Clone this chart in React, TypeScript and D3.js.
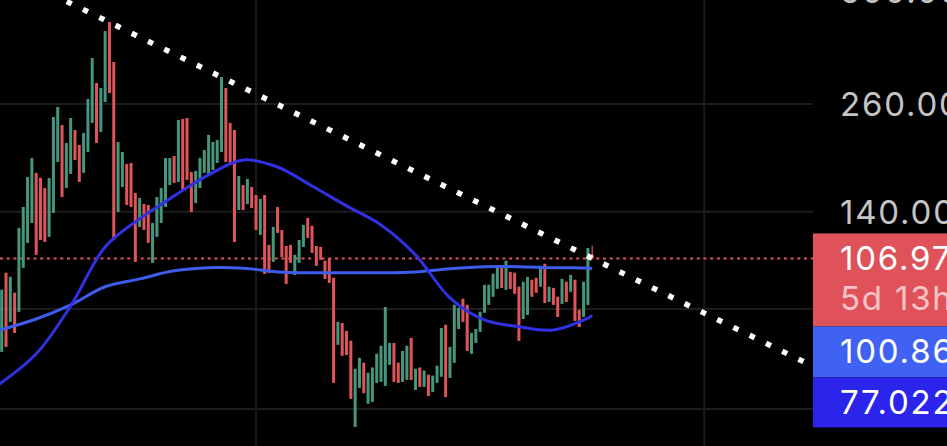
import * as d3 from 'd3';

import React, { useEffect, useRef } from 'react';

const WIDTH = 947;
const HEIGHT = 446;

// candles, oldest -> newest (prices, log axis)
const open = [
  62.5, 98.5, 74.3, 87.8, 78.7, 101.4, 117, 131.2, 174.9, 170,
  160.4, 121.1, 139, 186.3, 230.4, 160.4, 173.9, 223.9, 205.4, 175,
  197.3, 233.1, 293.4, 221.4, 263, 416.4, 331, 139.8, 161.3, 184.2,
  185.2, 155.9, 128.2, 146.3, 145.5, 104.3, 121.1, 131.2, 143.8, 163.2,
  192.8, 166.1, 238.6, 239.9, 175.9, 147.1, 160.4, 174.9, 172.9, 177.9,
  185.2, 197.3, 285, 233.1, 223.9, 141.4, 163.2, 146.3, 161.3, 154.1,
  122.5, 154.1, 115.6, 104.9, 143.8, 126, 114.9, 115.6, 97.3, 104.3,
  114.3, 135, 129, 114.9, 114.3, 105.5, 107.3, 95.7, 65.1, 73.8,
  70.5, 66.6, 40.6, 50.8, 58.7, 46.4, 46.9, 52.3, 52.6, 51.4,
  58, 65.8, 58.7, 52.6, 53.2, 67.7, 50.2, 57.1, 51.1, 54.8,
  49.6, 52.3, 54.2, 73, 53.8, 58.7, 71.3, 84.8, 81.9, 61.8,
  65.8, 70.1, 78.3, 81.9, 85.8, 89.8, 102.5, 89.3, 99, 98.5,
  90.9, 75.5, 77.3, 94.6, 95.7, 90.9, 103.7, 83.3, 90.3, 85.8,
  82.4, 93.5, 88.3, 94.6, 79.6, 76.4, 81.9, 109.5,
];
const close = [
  89.3, 64.3, 96.2, 69.7, 127.5, 143.8, 170.9, 190.5, 109.2, 119,
  117.6, 170, 241.3, 255.6, 152.3, 207.8, 239.9, 188.4, 166.1, 220.1,
  267.6, 338.7, 207.8, 285, 395.5, 277, 119, 209, 197.3, 145.5,
  143.8, 104.9, 151.4, 126, 117, 131.2, 152.3, 160.4, 190.5, 190.5,
  165.2, 237.2, 158.6, 168, 139.8, 176.9, 190.5, 199.6, 217.6, 209,
  211.4, 303.7, 186.3, 185.2, 117.6, 171.9, 141.4, 169, 142.9, 126,
  150.6, 97.9, 98.5, 128.2, 123.9, 107.9, 92.4, 104.3, 109.2, 119,
  129.7, 120.4, 110.5, 102.5, 106.1, 95.1, 92.9, 52.3, 74.3, 61.1,
  61.4, 47.7, 56.7, 60.4, 49.3, 55.4, 57.1, 61.8, 64.7, 80.9,
  65.8, 52.6, 52.3, 62.8, 64.7, 53.2, 56.7, 51.1, 56.1, 48.5,
  54.5, 57.7, 71.7, 48.2, 64.3, 81.9, 80.5, 74.3, 62.8, 69.7,
  71.3, 78.7, 91.9, 91.9, 97.9, 102.5, 90.3, 105.5, 89.8, 87.3,
  66.6, 93.5, 96.2, 85.8, 87.8, 102.5, 82.8, 90.9, 81.9, 76.4,
  95.1, 83.3, 97.3, 74.7, 72.1, 93.5, 113.6, 106.97,
];
const high = [
  89.3, 98.5, 96.2, 87.8, 127.5, 143.8, 170.9, 190.5, 174.9, 170,
  160.4, 170, 241.3, 255.6, 230.4, 207.8, 239.9, 223.9, 205.4, 220.1,
  267.6, 338.7, 293.4, 285, 395.5, 416.4, 331, 209, 197.3, 184.2,
  185.2, 155.9, 151.4, 146.3, 145.5, 131.2, 152.3, 160.4, 190.5, 190.5,
  192.8, 237.2, 238.6, 239.9, 175.9, 176.9, 190.5, 199.6, 217.6, 209,
  211.4, 303.7, 285, 233.1, 223.9, 171.9, 163.2, 169, 161.3, 154.1,
  150.6, 154.1, 115.6, 128.2, 143.8, 126, 114.9, 115.6, 109.2, 119,
  129.7, 135, 129, 114.9, 114.3, 105.5, 107.3, 95.7, 74.3, 73.8,
  70.5, 66.6, 56.7, 60.4, 58.7, 55.4, 57.1, 61.8, 64.7, 80.9,
  65.8, 65.8, 58.7, 62.8, 64.7, 67.7, 56.7, 57.1, 56.1, 54.8,
  54.5, 57.7, 71.7, 73, 64.3, 81.9, 80.5, 84.8, 81.9, 69.7,
  71.3, 78.7, 91.9, 91.9, 97.9, 102.5, 102.5, 105.5, 99, 98.5,
  90.9, 93.5, 96.2, 94.6, 95.7, 102.5, 103.7, 90.9, 90.3, 85.8,
  95.1, 93.5, 97.3, 94.6, 79.6, 93.5, 113.6, 115,
];
const low = [
  62.5, 64.3, 74.3, 69.7, 78.7, 101.4, 117, 131.2, 109.2, 119,
  117.6, 121.1, 139, 186.3, 152.3, 160.4, 173.9, 188.4, 166.1, 175,
  197.3, 233.1, 207.8, 221.4, 263, 277, 119, 139.8, 161.3, 145.5,
  143.8, 104.9, 128.2, 126, 117, 104.3, 121.1, 131.2, 143.8, 163.2,
  165.2, 166.1, 158.6, 168, 139.8, 147.1, 160.4, 174.9, 172.9, 177.9,
  185.2, 197.3, 186.3, 185.2, 117.6, 141.4, 141.4, 146.3, 142.9, 126,
  122.5, 97.9, 98.5, 104.9, 123.9, 107.9, 92.4, 104.3, 97.3, 104.3,
  114.3, 120.4, 110.5, 102.5, 106.1, 95.1, 92.9, 52.3, 65.1, 61.1,
  61.4, 47.7, 40.6, 50.8, 49.3, 46.4, 46.9, 52.3, 52.6, 51.4,
  58, 52.6, 52.3, 52.6, 53.2, 53.2, 50.2, 51.1, 51.1, 48.5,
  49.6, 52.3, 54.2, 48.2, 53.8, 58.7, 71.3, 74.3, 62.8, 61.8,
  65.8, 70.1, 78.3, 81.9, 85.8, 89.8, 90.3, 89.3, 89.8, 87.3,
  66.6, 75.5, 77.3, 85.8, 87.8, 90.9, 82.8, 83.3, 81.9, 76.4,
  82.4, 83.3, 88.3, 74.7, 72.1, 76.4, 81.9, 106.5,
];

// moving averages sampled at candle indices
const maIndex = [-1, 8, 16, 24, 32, 40, 48, 56, 64, 72, 80, 88, 96, 104, 112, 120, 128, 136, 137];
const maSlow = [70.6, 75.5, 81.9, 90.9, 95.1, 99.6, 101.4, 101.1, 99.0, 98.5, 98.5, 98.5, 99.0, 100.8, 102, 102, 101.4, 101.2, 100.86];
const maFast = [51.5, 61.8, 81.4, 114.3, 134.3, 153.2, 172.9, 188.4, 181.0, 162.2, 144.7, 129.7, 109.2, 85.3, 75.1, 72.2, 70.9, 75.9, 77.022];

// descending trendline (two anchors)
const trendIndex = [0, 188];
const trendPrice = [563, 57.7];

const lastPrice = 106.97;
const gridPrices = [500, 260, 140, 80, 45];
const labelPrices = [500, 260, 140];
const tickLabels = ['500.00', '260.00', '140.00'];
const timeGrid = [59, 163];

const tagText = ['106.97', '100.86', '77.022'];
const tagSub = ['5d 13h', '', ''];
const tagColor = ['#e0525a', '#3f62f2', '#2b24ea'];

const UP = '#46967d';
const DOWN = '#e0555a';
const FONT = 'Inter, "Noto Sans", sans-serif';

export default function App() {
  const chartRef = useRef<SVGSVGElement>(null);

  useEffect(() => {
    document.body.style.margin = '0';
    document.body.style.background = '#000';

    const svg = d3.select(chartRef.current);
    svg.selectAll('*').remove();

    const plotRight = 813;
    const x = d3.scaleLinear().domain([0, open.length - 1]).range([1.7, 592.2]);
    const y = d3.scaleLog().domain([260, 45]).range([104, 409]);

    svg.append('rect').attr('width', WIDTH).attr('height', HEIGHT).attr('fill', '#000');

    svg
      .append('defs')
      .append('clipPath')
      .attr('id', 'plot-clip')
      .append('rect')
      .attr('width', plotRight)
      .attr('height', HEIGHT);

    // grid
    svg
      .append('g')
      .selectAll('line')
      .data(gridPrices)
      .join('line')
      .attr('x1', 0)
      .attr('x2', plotRight)
      .attr('y1', (d) => y(d))
      .attr('y2', (d) => y(d))
      .attr('stroke', '#1d1d1d')
      .attr('stroke-width', 2);

    svg
      .append('g')
      .selectAll('line')
      .data(timeGrid)
      .join('line')
      .attr('x1', (d) => x(d))
      .attr('x2', (d) => x(d))
      .attr('y1', 0)
      .attr('y2', HEIGHT)
      .attr('stroke', '#1a1a1a')
      .attr('stroke-width', 2);

    const plot = svg.append('g').attr('clip-path', 'url(#plot-clip)');

    // last price line
    plot
      .append('line')
      .attr('x1', 0)
      .attr('x2', plotRight)
      .attr('y1', y(lastPrice))
      .attr('y2', y(lastPrice))
      .attr('stroke', DOWN)
      .attr('stroke-width', 2)
      .attr('stroke-dasharray', '3 3.7');

    const idx = d3.range(open.length);
    const color = (i: number) => (close[i] >= open[i] ? UP : DOWN);

    plot
      .append('g')
      .selectAll('line')
      .data(idx)
      .join('line')
      .attr('x1', (i) => x(i))
      .attr('x2', (i) => x(i))
      .attr('y1', (i) => y(high[i]))
      .attr('y2', (i) => y(low[i]))
      .attr('stroke', color)
      .attr('stroke-width', 1.2);

    plot
      .append('g')
      .selectAll('rect')
      .data(idx)
      .join('rect')
      .attr('x', (i) => x(i) - 1.5)
      .attr('width', 3)
      .attr('y', (i) => y(Math.max(open[i], close[i])))
      .attr('height', (i) => Math.max(1, Math.abs(y(open[i]) - y(close[i]))))
      .attr('fill', color);

    // moving averages
    const maLine = d3
      .line<number>()
      .x((_, k) => x(maIndex[k]))
      .y((d) => y(d))
      .curve(d3.curveCatmullRom);

    plot
      .append('path')
      .attr('d', maLine(maSlow))
      .attr('fill', 'none')
      .attr('stroke', '#3d5cec')
      .attr('stroke-width', 3);

    plot
      .append('path')
      .attr('d', maLine(maFast))
      .attr('fill', 'none')
      .attr('stroke', '#3131e4')
      .attr('stroke-width', 3);

    // trendline
    const trendLine = d3
      .line<number>()
      .x((_, k) => x(trendIndex[k]))
      .y((d) => y(d));

    plot
      .append('path')
      .attr('d', trendLine(trendPrice))
      .attr('fill', 'none')
      .attr('stroke', '#fff')
      .attr('stroke-width', 5.5)
      .attr('stroke-dasharray', '5.5 12.6');

    // price axis
    const axis = svg.append('g');
    axis
      .append('rect')
      .attr('x', plotRight)
      .attr('width', WIDTH - plotRight)
      .attr('height', HEIGHT)
      .attr('fill', '#000');

    axis
      .selectAll('text')
      .data(labelPrices)
      .join('text')
      .attr('x', 840)
      .attr('y', (d) => y(d))
      .attr('dy', '0.37em')
      .attr('fill', '#c4c4c4')
      .attr('font-family', FONT)
      .attr('font-size', 33)
      .attr('letter-spacing', 1.8)
      .text((_, k) => tickLabels[k]);

    // price tags stacked under the last price
    const tagHeights = [93, 51, 50];
    let top = y(lastPrice) - 25;
    tagText.forEach((t, k) => {
      const g = svg.append('g');
      g.append('rect')
        .attr('x', plotRight)
        .attr('y', top)
        .attr('width', WIDTH - plotRight)
        .attr('height', tagHeights[k])
        .attr('fill', tagColor[k]);
      g.append('text')
        .attr('x', 840)
        .attr('y', top + 37)
        .attr('fill', '#fff')
        .attr('font-family', FONT)
        .attr('font-size', 33)
        .attr('letter-spacing', 1.8)
        .text(t);
      if (tagSub[k]) {
        g.append('text')
          .attr('x', 840)
          .attr('y', top + 77)
          .attr('fill', '#f6c4c6')
          .attr('font-family', FONT)
          .attr('font-size', 33)
          .attr('letter-spacing', 1.8)
          .text(tagSub[k]);
      }
      top += tagHeights[k];
    });
  }, []);

  return <svg ref={chartRef} width={WIDTH} height={HEIGHT} style={{ display: 'block' }}></svg>;
}
